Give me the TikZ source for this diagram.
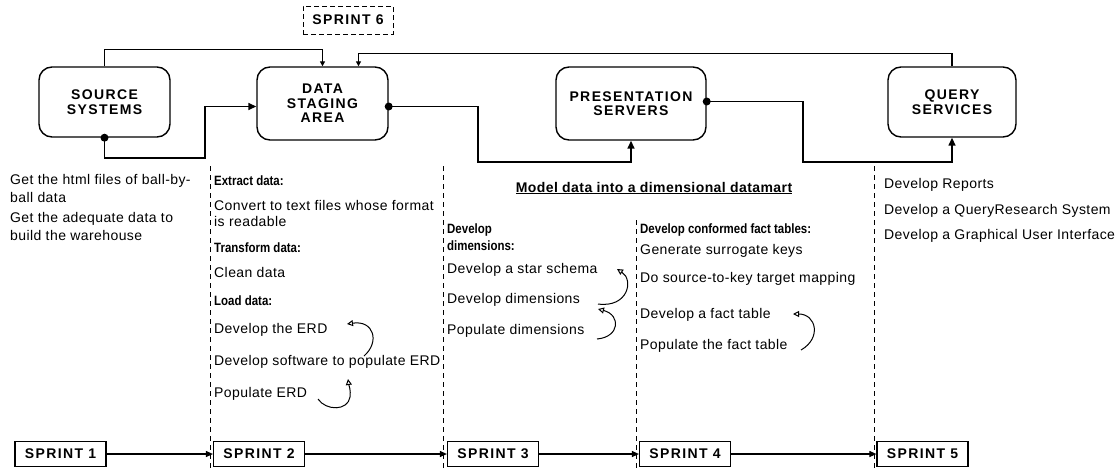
\documentclass[tikz,border=0pt]{standalone}
\usepackage{fontspec}
\setmainfont{Liberation Sans}[LetterSpace=3]
\newfontfamily\capsfont{Liberation Sans}[LetterSpace=10]
\newfontfamily\headfont{Liberation Sans}[FakeStretch=0.85]
\usetikzlibrary{arrows.meta}
\begin{document}
\begin{tikzpicture}[x=1pt,y=-1pt,
  tier/.style={draw, line width=1.4pt, rounded corners=13pt, align=center, inner sep=0pt,
    font=\capsfont\bfseries\fontsize{14}{14.5}\selectfont},
  sprintbox/.style={draw, line width=1.2pt, minimum width=91pt, minimum height=25pt, inner sep=0pt,
    font=\capsfont\bfseries\fontsize{14}{16}\selectfont},
  flow/.style={line width=1.5pt, -{Triangle[length=8pt,width=7pt]}},
  flowsmall/.style={line width=1.2pt, -{Triangle[length=5pt,width=5pt]}},
  timeline/.style={line width=1.1pt, -{Triangle[length=7pt,width=6pt]}},
  divider/.style={dash pattern=on 5pt off 4pt, line width=0.9pt},
  txt/.style={anchor=west, inner sep=0pt, font=\fontsize{14}{16}\selectfont},
  hd/.style={txt, font=\headfont\bfseries\fontsize{13.5}{15}\selectfont},
  loop/.style={line width=1pt, -{Triangle[open,length=6pt,width=6pt]}}
]
\useasboundingbox (0,0) rectangle (1119,469);

% --- architecture tiers ---
\node[tier, minimum width=131pt, minimum height=70pt] (src) at (104.5,102) {SOURCE\\SYSTEMS};
\node[tier, minimum width=131pt, minimum height=73pt] (stg) at (322.5,103.5) {DATA\\STAGING\\AREA};
\node[tier, minimum width=150pt, minimum height=73pt] (prs) at (631,103.5) {PRESENTATION\\SERVERS};
\node[tier, minimum width=128pt, minimum height=70pt] (qry) at (952,102) {QUERY\\SERVICES};

\node[sprintbox, dash pattern=on 5pt off 3pt, line width=0.9pt, minimum width=90pt, minimum height=28pt] (s6) at (348,20) {SPRINT 6};

% --- data flow between tiers ---
\draw[flowsmall] (src.north) -- ++(0,-17) -| (stg.north);
\draw[flowsmall] (qry.north) -- ++(0,-13) -| ([xshift=36pt]stg.north);
\draw[flow] (src.south) |- (205,158) |- ([yshift=-3pt]stg.west);
\fill (src.south) circle (4pt);
\draw[flow] ([yshift=-3pt]stg.east) -| (478,162) -| (prs.south);
\fill ([yshift=-3pt]stg.east) circle (4pt);
\draw[flow] ([yshift=2pt]prs.east) -| (803,162) -| (qry.south);
\fill ([yshift=2pt]prs.east) circle (4pt);

% --- phase dividers ---
\draw[divider] (210,166) -- (210,469);
\draw[divider] (443,166) -- (443,469);
\draw[divider] (636,220) -- (636,469);
\draw[divider] (874,166) -- (874,469);

% --- column 1 ---
\node[txt] (c1a) at (10,181) {Get the html files of ball-by-};
\node[txt] (c1b) at (10,197) {ball data};
\node[txt] (c1c) at (10,219) {Get the adequate data to};
\node[txt] (c1d) at (10,235) {build the warehouse};

% --- column 2 ---
\node[hd]  (c2a) at (214,181) {Extract data:};
\node[txt] (c2b) at (214,205) {Convert to text files whose format};
\node[txt] (c2c) at (214,221) {is readable};
\node[hd]  (c2d) at (214,248) {Transform data:};
\node[txt] (c2e) at (214,272) {Clean data};
\node[hd]  (c2f) at (214,301) {Load data:};
\node[txt] (c2g) at (214,330) {Develop the ERD};
\node[txt] (c2h) at (214,362) {Develop software to populate ERD};
\node[txt] (c2i) at (214,394) {Populate ERD};
\draw[loop] (364,356) .. controls (380,342) and (374,320) .. (347,324);
\draw[loop] (318,399) .. controls (326,411) and (348,411) .. (350,397) .. controls (351,390) and (349,386) .. (348,379);

% --- columns 3 and 4 ---
\node[txt, font=\bfseries\fontsize{14}{16}\selectfont, anchor=center] (c3h) at (654,188) {\underline{Model data into a dimensional datamart}};
\node[hd]  (c3a) at (447,230) {Develop};
\node[hd]  (c3b) at (447,246) {dimensions:};
\node[txt] (c3c) at (447,270) {Develop a star schema};
\node[txt] (c3d) at (447,300) {Develop dimensions};
\node[txt] (c3e) at (447,331) {Populate dimensions};
\draw[loop] (598,304) .. controls (628,308) and (634,280) .. (617,269);
\draw[loop] (597,339) .. controls (620,337) and (621,315) .. (598,309);

\node[hd]  (c4a) at (640,230) {Develop conformed fact tables:};
\node[txt] (c4b) at (640,251) {Generate surrogate keys};
\node[txt] (c4c) at (640,279) {Do source-to-key target mapping};
\node[txt] (c4d) at (640,315) {Develop a fact table};
\node[txt] (c4e) at (640,346) {Populate the fact table};
\draw[loop] (801,350) .. controls (822,338) and (816,314) .. (793,314);

% --- column 5 ---
\node[txt] (c5a) at (884,185) {Develop Reports};
\node[txt] (c5b) at (884,211) {Develop a QueryResearch System};
\node[txt] (c5c) at (884,236) {Develop a Graphical User Interface};

% --- sprint timeline ---
\node[sprintbox] (s1) at (60.5,454) {SPRINT 1};
\node[sprintbox] (s2) at (259,454) {SPRINT 2};
\node[sprintbox] (s3) at (493,454) {SPRINT 3};
\node[sprintbox] (s4) at (685,454) {SPRINT 4};
\node[sprintbox] (s5) at (922.5,454) {SPRINT 5};
\draw[timeline] (s1) -- (s2);
\draw[timeline] (s2) -- (s3);
\draw[timeline] (s3) -- (s4);
\draw[timeline] (s4) -- (s5);
\end{tikzpicture}
\end{document}
